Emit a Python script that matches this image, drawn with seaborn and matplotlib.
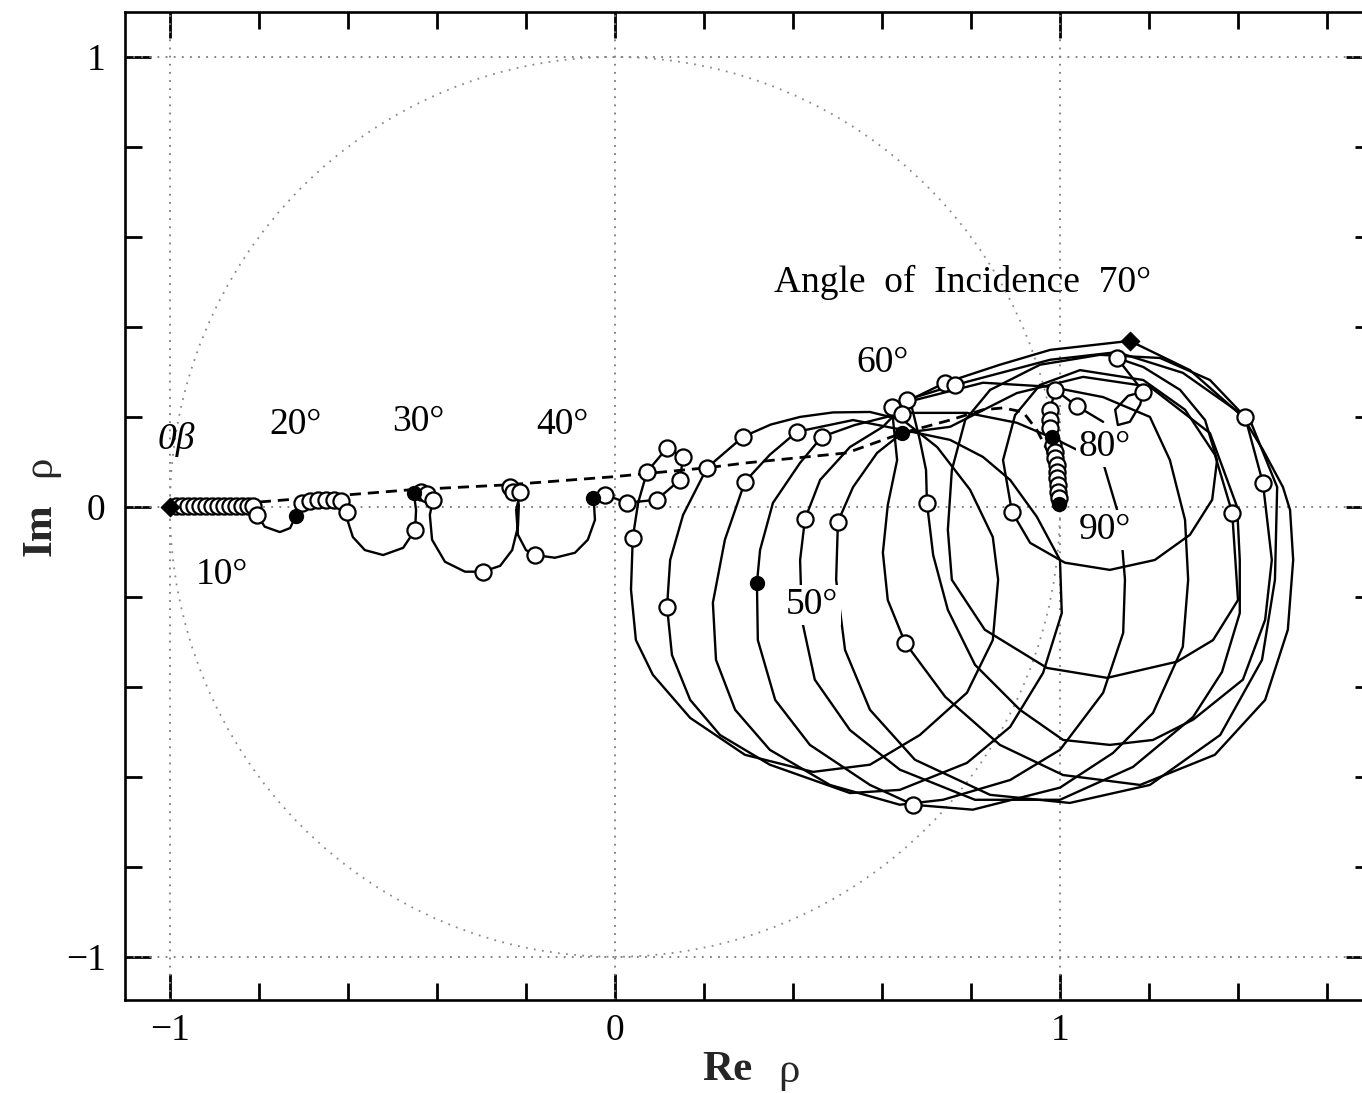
import matplotlib
matplotlib.use("Agg")
import matplotlib.pyplot as plt
import seaborn as sns

# ---------------- data (data units) ----------------
GRID_VALUES = [-1.0, 0.0, 1.0]

# continuous trajectory pieces (Re rho, Im rho)
LEFT_PATH = [(-1.000, 0.000), (-0.813, 0.002), (-0.804, -0.018), (-0.787, -0.044), (-0.753, -0.056),
             (-0.730, -0.047), (-0.717, -0.020), (-0.708, 0.004), (-0.703, 0.009), (-0.685, 0.013),
             (-0.667, 0.016), (-0.649, 0.016), (-0.631, 0.016), (-0.616, 0.013), (-0.602, -0.011),
             (-0.600, -0.033), (-0.589, -0.067), (-0.562, -0.096), (-0.521, -0.107), (-0.476, -0.091),
             (-0.449, -0.051), (-0.447, -0.007), (-0.452, 0.031), (-0.436, 0.033), (-0.422, 0.029),
             (-0.409, 0.016), (-0.416, -0.018), (-0.411, -0.073), (-0.382, -0.122), (-0.337, -0.144),
             (-0.297, -0.144), (-0.258, -0.131), (-0.231, -0.096), (-0.218, -0.044), (-0.216, 0.004),
             (-0.222, 0.038), (-0.236, 0.044), (-0.229, 0.033), (-0.213, 0.033), (-0.222, -0.007),
             (-0.218, -0.062), (-0.200, -0.096), (-0.180, -0.107), (-0.135, -0.113), (-0.090, -0.102),
             (-0.061, -0.073), (-0.045, -0.029), (-0.047, 0.004), (-0.049, 0.020)]

LOOP1 = [(-0.049, 0.020), (-0.022, 0.027), (0.027, 0.009), (0.094, 0.016), (0.146, 0.060), (0.153, 0.111),
         (0.117, 0.131), (0.072, 0.078), (0.052, 0.009), (0.040, -0.069), (0.036, -0.184), (0.047, -0.296),
         (0.085, -0.373), (0.169, -0.469), (0.292, -0.551), (0.445, -0.589), (0.573, -0.573), (0.685, -0.507),
         (0.791, -0.413), (0.849, -0.296), (0.861, -0.162), (0.849, -0.067), (0.798, 0.038), (0.724, 0.133),
         (0.647, 0.193)]

LOOP2 = [(0.647, 0.193), (0.573, 0.211), (0.490, 0.210), (0.416, 0.200), (0.350, 0.183), (0.288, 0.156),
         (0.207, 0.087), (0.153, -0.018),
         (0.124, -0.118), (0.117, -0.222), (0.128, -0.329), (0.169, -0.429), (0.236, -0.507), (0.348, -0.573),
         (0.528, -0.636), (0.640, -0.629), (0.791, -0.569), (0.888, -0.489), (0.962, -0.369), (1.004, -0.236),
         (1.000, -0.118), (0.948, -0.022), (0.888, 0.060), (0.827, 0.111), (0.753, 0.149), (0.647, 0.171)]

LOOP3 = [(0.647, 0.171), (0.535, 0.193), (0.409, 0.167), (0.348, 0.116), (0.292, 0.056), (0.247, -0.073),
         (0.220, -0.213), (0.227, -0.340), (0.270, -0.451), (0.348, -0.540), (0.483, -0.618), (0.640, -0.662),
         (0.737, -0.651), (0.888, -0.607), (1.000, -0.540), (1.097, -0.413), (1.142, -0.280), (1.146, -0.162),
         (1.135, -0.029), (1.097, 0.098), (0.993, 0.149), (0.903, 0.187), (0.791, 0.209), (0.647, 0.209)]

LOOP4 = [(0.647, 0.209), (0.539, 0.182), (0.465, 0.156), (0.416, 0.098), (0.355, 0.009), (0.326, -0.096),
         (0.319, -0.169), (0.321, -0.296), (0.360, -0.429), (0.438, -0.529), (0.573, -0.618), (0.670, -0.662),
         (0.804, -0.673), (1.000, -0.624), (1.119, -0.547), (1.209, -0.458), (1.276, -0.311), (1.288, -0.162),
         (1.281, -0.029), (1.247, 0.104), (1.202, 0.200), (1.097, 0.244), (0.978, 0.267), (0.827, 0.276),
         (0.656, 0.233)]

LOOP5 = [(0.656, 0.233), (0.602, 0.178), (0.528, 0.133), (0.461, 0.060), (0.427, -0.027), (0.416, -0.118),
         (0.420, -0.251), (0.449, -0.384), (0.528, -0.496), (0.640, -0.584), (0.809, -0.651), (1.000, -0.651),
         (1.164, -0.578), (1.299, -0.467), (1.364, -0.367), (1.404, -0.236), (1.404, -0.118), (1.398, 0.000),
         (1.337, 0.164), (1.202, 0.267), (1.052, 0.289), (0.903, 0.253), (0.753, 0.178), (0.645, 0.164)]

LOOP6 = [(0.645, 0.164), (0.589, 0.120), (0.535, 0.044), (0.501, -0.033), (0.497, -0.162), (0.517, -0.318),
         (0.573, -0.451), (0.674, -0.562), (0.843, -0.640), (1.022, -0.658), (1.202, -0.618), (1.360, -0.507),
         (1.454, -0.340), (1.483, -0.162), (1.488, 0.044), (1.427, 0.193), (1.276, 0.298), (1.128, 0.344),
         (0.978, 0.327), (0.764, 0.271), (0.656, 0.238)]

LOOP7 = [(0.656, 0.238), (0.622, 0.222), (0.634, 0.104), (0.613, 0.004), (0.602, -0.102), (0.613, -0.207),
         (0.652, -0.302), (0.742, -0.422), (0.865, -0.529), (1.007, -0.596), (1.180, -0.618), (1.348, -0.551),
         (1.461, -0.429), (1.512, -0.273), (1.524, -0.118), (1.517, -0.007), (1.501, 0.044), (1.456, 0.127),
         (1.411, 0.200), (1.292, 0.304), (1.157, 0.369), (0.978, 0.349), (0.865, 0.316), (0.742, 0.276),
         (0.663, 0.238)]

LOOP8 = [(0.663, 0.238), (0.685, 0.149), (0.699, 0.082), (0.701, 0.009), (0.715, -0.107), (0.748, -0.229),
         (0.809, -0.351), (0.910, -0.451), (1.007, -0.518), (1.112, -0.529), (1.209, -0.518), (1.299, -0.473),
         (1.411, -0.384), (1.461, -0.251), (1.476, -0.118), (1.456, 0.053), (1.416, 0.200), (1.337, 0.282),
         (1.225, 0.331), (1.090, 0.338), (0.955, 0.316), (0.843, 0.260)]

LOOP9 = [(0.843, 0.260), (0.787, 0.193), (0.757, 0.082), (0.748, -0.051), (0.757, -0.162), (0.831, -0.273),
         (0.971, -0.358), (1.106, -0.380), (1.263, -0.344), (1.344, -0.296), (1.400, -0.207), (1.387, -0.013),
         (1.348, 0.116), (1.281, 0.216), (1.187, 0.282), (1.045, 0.304), (0.955, 0.271)]

LOOP10 = [(0.955, 0.271), (0.899, 0.204), (0.872, 0.104), (0.892, -0.011), (0.933, -0.080), (1.011, -0.124),
          (1.112, -0.140), (1.213, -0.118), (1.292, -0.062), (1.342, 0.016), (1.353, 0.104), (1.326, 0.193),
          (1.270, 0.260), (1.187, 0.311), (1.128, 0.331), (1.187, 0.256), (1.180, 0.227), (1.157, 0.189),
          (1.130, 0.182), (1.124, 0.216), (1.153, 0.247), (1.187, 0.256)]

TAIL = [(1.097, 0.189), (1.038, 0.224), (0.989, 0.260), (0.978, 0.216), (0.978, 0.193), (0.978, 0.176),
        (0.982, 0.156), (0.984, 0.138), (0.989, 0.122), (0.989, 0.109), (0.993, 0.093), (0.993, 0.078),
        (0.993, 0.064), (0.996, 0.049), (0.996, 0.033), (0.998, 0.020), (0.998, 0.007)]

# dashed curve (bare-substrate locus)
DASH_X = [-0.798, -0.461, -0.243, -0.004, 0.207, 0.297, 0.521, 0.645, 0.753, 0.827, 0.872, 0.917, 0.948,
          0.971, 0.984, 0.998]
DASH_Y = [0.011, 0.038, 0.049, 0.067, 0.087, 0.098, 0.120, 0.164, 0.193, 0.216, 0.220, 0.211, 0.171,
          0.127, 0.071, 0.007]

# open circle markers (one per degree)
ROW0_X = [-0.987, -0.973, -0.960, -0.946, -0.933, -0.919, -0.906, -0.892, -0.879, -0.865, -0.852, -0.838,
          -0.825, -0.813]
ROW0_Y = [0.002] * len(ROW0_X)
OPEN_PTS = [(-0.804, -0.018), (-0.703, 0.009), (-0.685, 0.013), (-0.667, 0.016), (-0.649, 0.016),
            (-0.631, 0.016), (-0.616, 0.013), (-0.602, -0.011), (-0.449, -0.051), (-0.436, 0.033),
            (-0.422, 0.029), (-0.409, 0.016), (-0.297, -0.144), (-0.236, 0.044), (-0.229, 0.033),
            (-0.213, 0.033), (-0.180, -0.107), (-0.022, 0.027), (0.027, 0.009), (0.094, 0.016),
            (0.146, 0.060), (0.153, 0.111), (0.117, 0.131), (0.072, 0.078), (0.040, -0.069),
            (0.288, 0.156), (0.207, 0.087), (0.117, -0.222), (0.409, 0.167), (0.292, 0.056),
            (0.465, 0.156), (0.427, -0.027), (0.501, -0.033), (0.622, 0.222), (0.656, 0.238),
            (0.645, 0.207), (0.742, 0.276), (0.764, 0.271), (0.701, 0.009), (0.892, -0.011),
            (1.128, 0.331), (1.187, 0.256), (1.416, 0.200), (1.456, 0.053), (1.387, -0.013),
            (1.038, 0.224), (0.989, 0.260), (0.652, -0.302), (0.670, -0.662),
            (0.978, 0.216), (0.978, 0.193), (0.978, 0.176), (0.984, 0.138), (0.989, 0.122),
            (0.989, 0.109), (0.993, 0.093), (0.993, 0.078), (0.993, 0.064), (0.996, 0.049),
            (0.996, 0.033), (0.998, 0.020)]

# filled markers at every 10 degrees
FILLED_PTS = [(-0.717, -0.020), (-0.452, 0.031), (-0.049, 0.020), (0.319, -0.169), (0.645, 0.164),
              (0.982, 0.156), (0.998, 0.007)]
DIAMOND_PTS = [(-1.000, 0.000), (1.157, 0.369)]

# annotations: text, x, y, white backing
LABELS = [("0β", -0.987, 0.149, False), ("10°", -0.883, -0.150, False), ("20°", -0.717, 0.182, False),
          ("30°", -0.443, 0.189, False), ("40°", -0.117, 0.182, False), ("50°", 0.443, -0.218, True),
          ("60°", 0.602, 0.320, False), ("Angle  of  Incidence  70°", 0.782, 0.500, False),
          ("80°", 1.101, 0.133, True), ("90°", 1.101, -0.051, True)]

X_MAJOR = [-1.0, 0.0, 1.0]
X_MAJOR_LABELS = ["\u22121", "0", "1"]
X_MINOR = [-0.8, -0.6, -0.4, -0.2, 0.2, 0.4, 0.6, 0.8, 1.2, 1.4, 1.6]
Y_MAJOR = [-1.0, 0.0, 1.0]
Y_MAJOR_LABELS = ["\u22121", "0", "1"]
Y_MINOR = [-0.8, -0.6, -0.4, -0.2, 0.2, 0.4, 0.6, 0.8]

# ---------------- drawing ----------------
sns.set_theme(style="white")
plt.rcParams["font.family"] = ["Liberation Serif", "DejaVu Serif"]

fig = plt.figure(figsize=(13.62, 10.93), dpi=100)
ax = fig.add_axes([0.09178, 0.08509, 0.91520, 0.90393])
ax.set_facecolor("white")

dot = (0, (1, 3.5))
for v in GRID_VALUES:
    ax.axvline(v, color="#7a7a7a", lw=1.3, ls=dot, zorder=1)
    ax.axhline(v, color="#7a7a7a", lw=1.3, ls=dot, zorder=1)
ax.add_patch(plt.Circle((0, 0), 1.0, fill=False, ec="#8a8a8a", lw=1.3, ls=dot, zorder=1))

for path in [LEFT_PATH, LOOP1, LOOP2, LOOP3, LOOP4, LOOP5, LOOP6, LOOP7, LOOP8, LOOP9, LOOP10, TAIL]:
    xs = [p[0] for p in path]
    ys = [p[1] for p in path]
    sns.lineplot(x=xs, y=ys, sort=False, estimator=None, color="black", lw=1.7, ax=ax, zorder=2)

sns.lineplot(x=DASH_X, y=DASH_Y, sort=False, estimator=None, color="black", lw=2.0,
             linestyle=(0, (4, 2.5)), ax=ax, zorder=3)

for text, tx, ty, backed in LABELS:
    kw = dict(ha="center", va="center", fontsize=27, color="black", zorder=4)
    if text.startswith("0"):
        kw["style"] = "italic"
    if backed:
        kw["bbox"] = dict(fc="white", ec="none", pad=2)
    ax.text(tx, ty, text, **kw)

sns.scatterplot(x=ROW0_X, y=ROW0_Y, s=135, color="white", edgecolor="black", linewidth=1.6,
                zorder=5, ax=ax, legend=False)
sns.scatterplot(x=[p[0] for p in OPEN_PTS], y=[p[1] for p in OPEN_PTS], s=135, color="white",
                edgecolor="black", linewidth=1.6, zorder=5, ax=ax, legend=False)
sns.scatterplot(x=[p[0] for p in FILLED_PTS], y=[p[1] for p in FILLED_PTS], s=100, color="black",
                edgecolor="black", linewidth=1.0, zorder=6, ax=ax, legend=False)
sns.scatterplot(x=[p[0] for p in DIAMOND_PTS], y=[p[1] for p in DIAMOND_PTS], s=90, marker="D",
                color="black", edgecolor="black", zorder=6, ax=ax, legend=False)

ax.set_xlim(-1.101, 1.70)
ax.set_ylim(-1.096, 1.10)
ax.set_xticks(X_MAJOR)
ax.set_xticklabels(X_MAJOR_LABELS)
ax.set_xticks(X_MINOR, minor=True)
ax.set_yticks(Y_MAJOR)
ax.set_yticklabels(Y_MAJOR_LABELS)
ax.set_yticks(Y_MINOR, minor=True)
ax.tick_params(which="both", direction="in", top=True, right=True, bottom=True, left=True,
               width=2.0, color="black", labelcolor="black", labelsize=27)
ax.tick_params(which="major", length=19)
ax.tick_params(which="minor", length=12)
ax.tick_params(axis="x", pad=10)
ax.tick_params(axis="y", pad=14)
ax.set_xlabel("")
ax.set_ylabel("")
for s in ax.spines.values():
    s.set_color("black")
    s.set_linewidth(1.9)

fig.text(0.5338, 0.021, "Re", fontsize=31, fontweight="bold", ha="center", va="center")
fig.text(0.5790, 0.019, "ρ", fontsize=31, ha="center", va="center")
fig.text(0.0294, 0.515, "Im", fontsize=31, fontweight="bold", ha="center", va="center", rotation=90)
fig.text(0.0294, 0.573, "ρ", fontsize=31, ha="center", va="center", rotation=90)

fig.savefig("out.png", dpi=100)
